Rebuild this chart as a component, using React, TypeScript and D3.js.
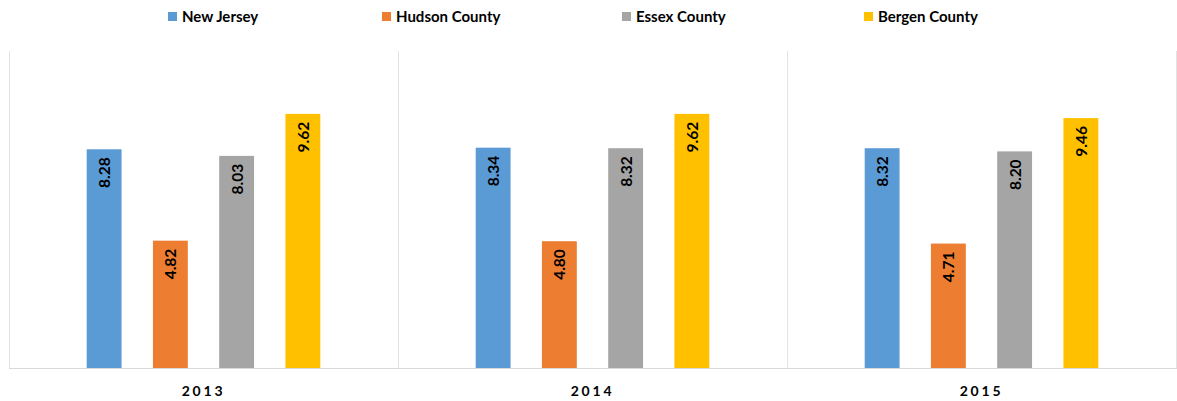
import React from "react";
import * as d3 from "d3";

const years = ["2013", "2014", "2015"];
const seriesNames = ["New Jersey", "Hudson County", "Essex County", "Bergen County"];
const seriesColors = ["#5B9BD5", "#ED7D31", "#A5A5A5", "#FFC000"];
const newJersey = [8.28, 8.34, 8.32];
const hudson = [4.82, 4.80, 4.71];
const essex = [8.03, 8.32, 8.20];
const bergen = [9.62, 9.62, 9.46];
const seriesValues = [newJersey, hudson, essex, bergen];

const W = 1177;
const H = 401;
const plot = { left: 9, right: 1176, top: 51, bottom: 368 };
const legendX = [168, 382, 622, 864];
const FONT = "Lato, 'Open Sans', sans-serif";

export default function App() {
  const x0 = d3.scaleBand<string>().domain(years).range([plot.left, plot.right]).padding(0);
  const x1 = d3
    .scaleBand<string>()
    .domain(seriesNames)
    .range([0, x0.bandwidth()])
    .paddingInner(0.4737)
    .paddingOuter(1.173);
  const y = d3.scaleLinear().domain([0, 12]).range([plot.bottom, plot.top]);

  return (
    <svg
      width={W}
      height={H}
      style={{ position: "absolute", left: 0, top: 0, background: "#fff" }}
      fontFamily={FONT}
    >
      {/* legend */}
      {seriesNames.map((s, i) => (
        <g key={s} transform={`translate(${legendX[i]},0)`}>
          <rect x={0} y={12} width={9} height={9} fill={seriesColors[i]} />
          <text x={14} y={21.5} fontSize={15} fontWeight={700} fill="#000">
            {s}
          </text>
        </g>
      ))}
      {/* panel separators */}
      {years.map((yr) => (
        <line
          key={"sep" + yr}
          x1={x0(yr)! + 0.5}
          x2={x0(yr)! + 0.5}
          y1={plot.top}
          y2={plot.bottom}
          stroke="#e3e3e3"
          strokeWidth={1}
        />
      ))}
      <line x1={plot.right + 0.5} x2={plot.right + 0.5} y1={plot.top} y2={plot.bottom} stroke="#e3e3e3" />
      {/* bars */}
      {years.map((yr, yi) => (
        <g key={yr} transform={`translate(${x0(yr)},0)`}>
          {seriesNames.map((s, si) => {
            const v = seriesValues[si][yi];
            const bx = x1(s)!;
            const bw = x1.bandwidth();
            const top = y(v);
            return (
              <g key={s}>
                <rect x={bx} y={top} width={bw} height={plot.bottom - top} fill={seriesColors[si]} />
                <text
                  transform={`translate(${bx + bw / 2},${top + 8}) rotate(-90)`}
                  textAnchor="end"
                  dominantBaseline="central"
                  fontSize={15.5}
                  fontWeight={700}
                  fill="#000"
                >
                  {v.toFixed(2)}
                </text>
              </g>
            );
          })}
          <text
            x={x0.bandwidth() / 2}
            y={396}
            textAnchor="middle"
            fontSize={14}
            fontWeight={700}
            letterSpacing={2.8}
            fill="#000"
          >
            {yr}
          </text>
        </g>
      ))}
      {/* baseline */}
      <line x1={plot.left} x2={plot.right + 1} y1={plot.bottom + 0.5} y2={plot.bottom + 0.5} stroke="#d9d9d9" />
    </svg>
  );
}
